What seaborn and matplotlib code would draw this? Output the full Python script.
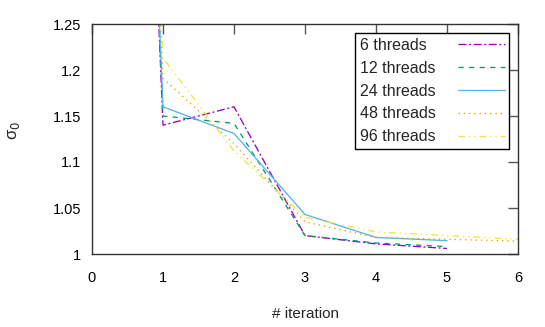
import matplotlib
matplotlib.use("Agg")
import matplotlib.pyplot as plt
import seaborn as sns
import pandas as pd

iterations = [0, 1, 2, 3, 4, 5, 6]
series_names = ["6 threads", "12 threads", "24 threads", "48 threads", "96 threads"]
sigma_6 = [3.0, 1.140, 1.160, 1.020, 1.011, 1.006]
sigma_12 = [3.0, 1.150, 1.142, 1.020, 1.012, 1.008]
sigma_24 = [3.0, 1.160, 1.131, 1.043, 1.018, 1.0145]
sigma_48 = [3.0, 1.191, 1.120, 1.035, 1.018, 1.016, 1.014]
sigma_96 = [3.0, 1.213, 1.112, 1.040, 1.024, 1.020, 1.016]
x_ticks = [0, 1, 2, 3, 4, 5, 6]
y_ticks = [1.0, 1.05, 1.1, 1.15, 1.2, 1.25]
y_tick_labels = ["1", "1.05", "1.1", "1.15", "1.2", "1.25"]

all_vals = [sigma_6, sigma_12, sigma_24, sigma_48, sigma_96]
rows = []
for name, vals in zip(series_names, all_vals):
    for it, v in zip(iterations, vals):
        rows.append({"iteration": it, "sigma": v, "series": name})
df = pd.DataFrame(rows)

sns.set_theme(style="white")
plt.rcParams["font.family"] = ["Liberation Sans", "DejaVu Sans"]

colors = {"6 threads": "#9400D3", "12 threads": "#009E73", "24 threads": "#56B4E9",
          "48 threads": "#E69F00", "96 threads": "#F0E442"}
dashes = {"6 threads": (6, 2, 1.5, 2), "12 threads": (4, 4), "24 threads": "",
          "48 threads": (1, 3), "96 threads": (5, 3, 1, 3, 1, 3)}

fig = plt.figure(figsize=(5.45, 3.27), dpi=100)
ax = fig.add_axes([92 / 545, 1 - 254 / 327, 426 / 545, 230 / 327])

sns.lineplot(data=df, x="iteration", y="sigma", hue="series", style="series",
             palette=colors, dashes=dashes, hue_order=series_names,
             style_order=series_names, linewidth=0.95, ax=ax, legend=True)

ax.set_xlim(0, 6)
ax.set_ylim(1.0, 1.25)
ax.set_xticks(x_ticks)
ax.set_xticklabels([str(t) for t in x_ticks])
ax.set_yticks(y_ticks)
ax.set_yticklabels(y_tick_labels)
ax.tick_params(direction="in", length=7, width=1, color="#555555",
               top=True, right=True, labelsize=10.5, labelcolor="black")
ax.tick_params(axis="y", pad=8)
ax.tick_params(axis="x", pad=12)
for sp in ax.spines.values():
    sp.set_color("#333333")
    sp.set_linewidth(1.0)

ax.set_xlabel("# iteration", fontsize=11, labelpad=16)
ax.set_ylabel("σ$_0$", fontsize=12)
ax.yaxis.set_label_coords(-0.164, 0.535)

handles, labels = ax.get_legend_handles_labels()
leg = ax.legend(handles, labels, loc="upper right", bbox_to_anchor=(0.98, 0.962),
                markerfirst=False, frameon=True, fancybox=False, fontsize=11.5,
                handlelength=2.9, handletextpad=1.4, labelspacing=0.5,
                borderpad=0.3, borderaxespad=0.0)
leg.get_frame().set_edgecolor("black")
leg.get_frame().set_linewidth(1.0)
leg.get_frame().set_alpha(1.0)

# left-align legend texts while keeping the sample lines aligned on the right
fig.canvas.draw()
renderer = fig.canvas.get_renderer()
col = leg._legend_handle_box.get_children()[0]
items = col.get_children()
wmax = max(it.get_bbox(renderer).width for it in items)
for it in items:
    it.width = wmax
    it.mode = "expand"

fig.savefig("out.png", dpi=100)
